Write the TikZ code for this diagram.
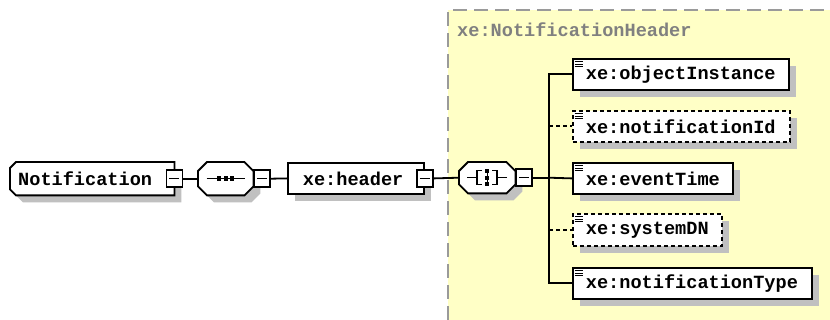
\documentclass[tikz,border=0pt]{standalone}
\usepackage{fontspec}
\setmonofont{Liberation Mono}
\usetikzlibrary{shadows}
\pgfdeclarelayer{bg}
\pgfdeclarelayer{shapes}
\pgfsetlayers{bg,shapes,main}
\definecolor{zone}{HTML}{FFFFC6}
\definecolor{shade}{HTML}{C0C0C0}
\definecolor{zoneline}{HTML}{9A9A9A}
\definecolor{captiongray}{HTML}{808080}
\tikzset{
 lbl/.style={font=\ttfamily\bfseries\fontsize{18.6}{20}\selectfont},
 shad/.style={general shadow={fill=shade, shadow xshift=7pt, shadow yshift=-7pt}},
 elem/.style={draw=black, line width=1.8pt, fill=white, shad, lbl, minimum height=32pt, inner xsep=0pt, inner ysep=0pt, anchor=north west, align=left},
 optelem/.style={elem, dash pattern=on 4pt off 3pt},
 bare/.style={draw=none, fill=none, lbl, minimum height=32pt, inner xsep=0pt, inner ysep=0pt, anchor=north west, align=left},
 outline/.style={draw=black, line width=1.8pt, fill=white, shad, line join=miter},
 minus/.style={draw=black, line width=1.6pt, fill=white, minimum width=16pt, minimum height=17pt, inner sep=0pt,
   path picture={\draw[line width=1.5pt] ([xshift=3pt]path picture bounding box.west) -- ([xshift=-3pt]path picture bounding box.east);}},
 conn/.style={line width=1.8pt},
 opt/.style={conn, dash pattern=on 4pt off 3pt},
 glyph/.style={line width=1.6pt}
}
\begin{document}
\begin{tikzpicture}[x=1pt,y=-1pt]
\begin{pgfonlayer}{bg}
\useasboundingbox (0,0) rectangle (830,320);
\fill[white] (0,0) rectangle (830,320);
\fill[zone] (448,10) rectangle (830,320);
\draw[zoneline, line width=1.6pt, dash pattern=on 14pt off 7pt] (448,320) -- (448,10) -- (830,10);
\end{pgfonlayer}
\node[lbl, text=captiongray, anchor=west, inner sep=0pt] (cap) at (457,30) {xe:NotificationHeader};

% main row
\node[bare, minimum height=33pt, text width=164pt] (root) at (10,162) {\hspace*{8pt}Notification};
\node[bare, minimum height=33pt, minimum width=55pt] (seq) at (198,162) {};
\node[elem, minimum height=31pt, text width=136pt] (hdr) at (287,162) {\hspace*{15pt}xe:header};
\node[bare, minimum height=31pt, minimum width=56pt] (cho) at (459,162) {};
\begin{pgfonlayer}{shapes}
 \path[outline] ([xshift=6pt]root.north west) -- (root.north east) -- (root.south east)
   -- ([xshift=6pt]root.south west) -- ([yshift=6pt]root.south west) -- ([yshift=-6pt]root.north west) -- cycle;
 \foreach \s in {seq,cho}
  \path[outline] ([xshift=9pt]\s.north west) -- ([xshift=-9pt]\s.north east) -- ([yshift=-9pt]\s.north east)
    -- ([yshift=9pt]\s.south east) -- ([xshift=-9pt]\s.south east) -- ([xshift=9pt]\s.south west)
    -- ([yshift=9pt]\s.south west) -- ([yshift=-9pt]\s.north west) -- cycle;
\end{pgfonlayer}
\node[minus] (rootm) at (root.east) {};
\node[minus, anchor=west] (seqm) at (seq.east) {};
\node[minus] (hdrm) at (hdr.east) {};
\node[minus, anchor=west] (chom) at (cho.east) {};
\coordinate (bus) at ([xshift=16pt]chom.east);

% compositor glyphs
\begin{scope}[shift={(seq.center)}]
 \draw[glyph] (-19,0) -- (19,0);
 \foreach \d in {-6.5,0,6.5} \fill (\d-2.2,-2.2) rectangle (\d+2.2,2.2);
\end{scope}
\begin{scope}[shift={(cho.center)}]
 \draw[glyph] (-20,0) -- (-10,0);
 \draw[glyph] (-5,-7) -- (-10,-7) -- (-10,7) -- (-5,7);
 \draw[glyph] (20,0) -- (10,0);
 \draw[glyph] (5,-7) -- (10,-7) -- (10,7) -- (5,7);
 \draw[line width=0.8pt] (0,-8) -- (0,8);
 \fill (-2.2,-8.5) rectangle (2.2,-4.3);
 \fill (-2.2,-2.1) rectangle (2.2,2.1);
 \fill (-2.2,4.3) rectangle (2.2,8.5);
\end{scope}

% children
\node[elem, text width=216pt, minimum height=31pt] (c1) at (572,58) {\hspace*{13pt}xe:objectInstance};
\node[optelem, text width=217pt, minimum height=31pt] (c2) at (572,110) {\hspace*{13pt}xe:notificationId};
\node[elem, text width=160pt, minimum height=31pt] (c3) at (572,162) {\hspace*{13pt}xe:eventTime};
\node[optelem, text width=149pt] (c4) at (572,213) {\hspace*{13pt}xe:systemDN};
\node[elem, text width=239pt, minimum height=31pt] (c5) at (572,267) {\hspace*{13pt}xe:notificationType};
\foreach \n in {c1,c2,c3,c4,c5} {
 \foreach \k in {3.5,6,8.5}
  \draw[line width=0.9pt] ([shift={(2.5pt,-\k pt)}]\n.north west) -- ++(8,0);
}

% connectors
\draw[conn] (rootm.east) -- (seq.west);
\draw[conn] (seqm.east) -- (hdr.west);
\draw[conn] (hdrm.east) -- (cho.west);
\draw[conn] (chom.east) -- (bus);
\draw[conn] (c1.west) -| (bus) |- (c5.west);
\draw[conn] (bus) -- (c3.west);
\draw[opt] (bus |- c2.west) -- (c2.west);
\draw[opt] (bus |- c4.west) -- (c4.west);
\end{tikzpicture}
\end{document}
